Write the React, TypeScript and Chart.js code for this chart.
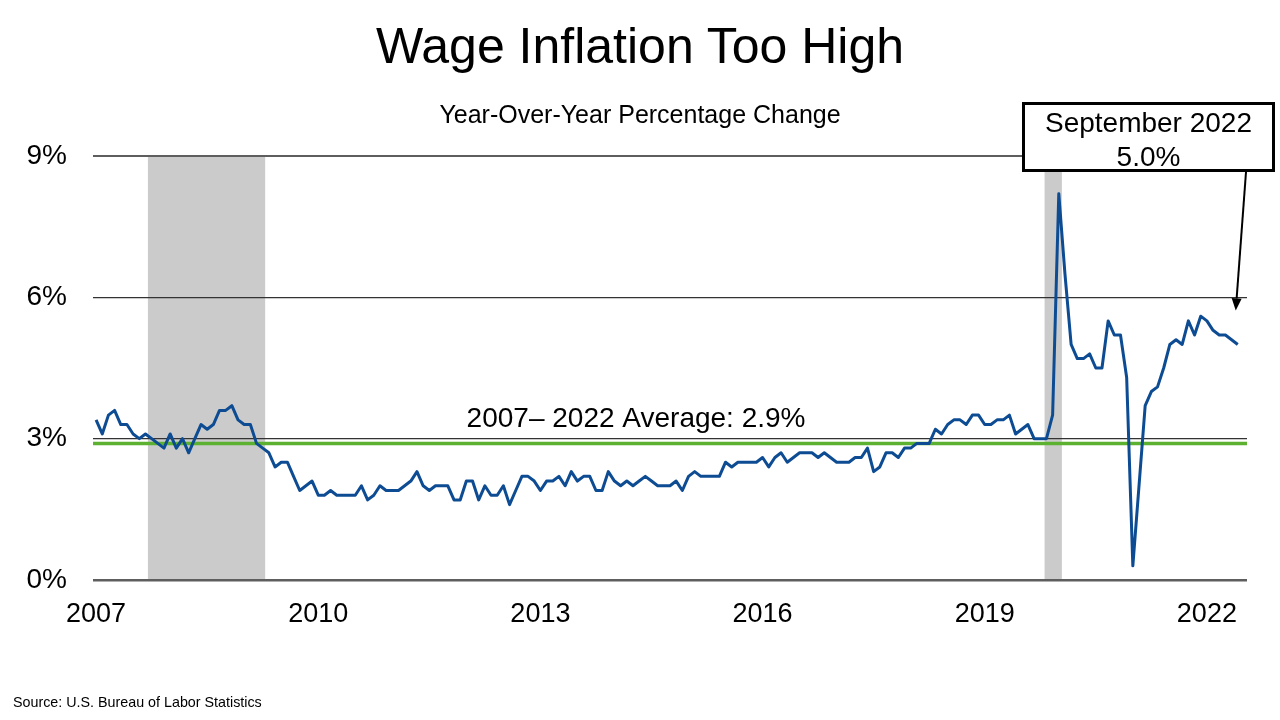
import { useEffect, useRef } from "react";
import { Chart, registerables } from "chart.js";

Chart.register(...registerables);

const FONT = '"Liberation Sans", Arial, Helvetica, sans-serif';

const titleText = "Wage Inflation Too High";
const subtitleText = "Year-Over-Year Percentage Change";
const sourceText = "Source: U.S. Bureau of Labor Statistics";
const calloutLines = ["September 2022", "5.0%"];
const averageLabel = "2007\u2013 2022 Average: 2.9%";

// Monthly year-over-year change (%), April 2007 – September 2022
const wageGrowth = [
  3.4, 3.1, 3.5, 3.6, 3.3, 3.3, 3.1, 3.0, 3.1, 3.0, 2.9, 2.8,
  3.1, 2.8, 3.0, 2.7, 3.0, 3.3, 3.2, 3.3, 3.6, 3.6, 3.7, 3.4,
  3.3, 3.3, 2.9, 2.8, 2.7, 2.4, 2.5, 2.5, 2.2, 1.9, 2.0, 2.1,
  1.8, 1.8, 1.9, 1.8, 1.8, 1.8, 1.8, 2.0, 1.7, 1.8, 2.0, 1.9,
  1.9, 1.9, 2.0, 2.1, 2.3, 2.0, 1.9, 2.0, 2.0, 2.0, 1.7, 1.7,
  2.1, 2.1, 1.7, 2.0, 1.8, 1.8, 2.0, 1.6, 1.9, 2.2, 2.2, 2.1,
  1.9, 2.1, 2.1, 2.2, 2.0, 2.3, 2.1, 2.2, 2.2, 1.9, 1.9, 2.3,
  2.1, 2.0, 2.1, 2.0, 2.1, 2.2, 2.1, 2.0, 2.0, 2.0, 2.1, 1.9,
  2.2, 2.3, 2.2, 2.2, 2.2, 2.2, 2.5, 2.4, 2.5, 2.5, 2.5, 2.5,
  2.6, 2.4, 2.6, 2.7, 2.5, 2.6, 2.7, 2.7, 2.7, 2.6, 2.7, 2.6,
  2.5, 2.5, 2.5, 2.6, 2.6, 2.8, 2.3, 2.4, 2.7, 2.7, 2.6, 2.8,
  2.8, 2.9, 2.9, 2.9, 3.2, 3.1, 3.3, 3.4, 3.4, 3.3, 3.5, 3.5,
  3.3, 3.3, 3.4, 3.4, 3.5, 3.1, 3.2, 3.3, 3.0, 3.0, 3.0, 3.5,
  8.2, 6.5, 5.0, 4.7, 4.7, 4.8, 4.5, 4.5, 5.5, 5.2, 5.2, 4.3,
  0.3, 2.0, 3.7, 4.0, 4.1, 4.5, 5.0, 5.1, 5.0, 5.5, 5.2, 5.6,
  5.5, 5.3, 5.2, 5.2, 5.1, 5.0,
];

const averageValue = 2.9;
const averageLabelAt = 87.5; // month index where the average label is centred

const yearTickIndex = [0, 36, 72, 108, 144, 180];
const yearTickLabels = ["2007", "2010", "2013", "2016", "2019", "2022"];
const yTickValues = [0, 3, 6, 9];

// Recession bands in month-index units
const recessionStart = [8.4, 153.7];
const recessionEnd = [27.4, 156.5];

const xMin = -0.5;
const xMax = 186.5;
const yMin = 0;
const yMax = 9;

// callout box geometry (page pixels)
const BOX = { left: 1022, top: 102, width: 253, height: 70 };

const recessionPlugin = {
  id: "recessionBands",
  beforeDraw(chart: any) {
    const { ctx, scales } = chart;
    const x = scales.x;
    const y = scales.y;
    ctx.save();
    ctx.fillStyle = "#cbcbcb";
    const yTop = y.getPixelForValue(yMax);
    const yBot = y.getPixelForValue(yMin);
    recessionStart.forEach((s, i) => {
      const x0 = x.getPixelForValue(s);
      const x1 = x.getPixelForValue(recessionEnd[i]);
      ctx.fillRect(x0, yTop, x1 - x0, yBot - yTop);
    });
    ctx.restore();
  },
};

const annotationPlugin = {
  id: "annotations",
  afterDraw(chart: any) {
    const { ctx, scales } = chart;
    const x = scales.x;
    const y = scales.y;
    ctx.save();
    // average label
    ctx.font = `28px ${FONT}`;
    ctx.fillStyle = "#000";
    ctx.textAlign = "center";
    ctx.textBaseline = "alphabetic";
    ctx.fillText(averageLabel, x.getPixelForValue(averageLabelAt), y.getPixelForValue(averageValue) - 16);

    // arrow from callout box to the last point
    const last = wageGrowth.length - 1;
    const tipX = x.getPixelForValue(last) - 2;
    const tipY = y.getPixelForValue(wageGrowth[last]) - 34;
    const startX = BOX.left + 224;
    const startY = BOX.top + BOX.height;
    const ang = Math.atan2(tipY - startY, tipX - startX);
    const headLen = 12;
    const headW = 5;
    const baseX = tipX - headLen * Math.cos(ang);
    const baseY = tipY - headLen * Math.sin(ang);
    ctx.strokeStyle = "#000";
    ctx.lineWidth = 2;
    ctx.beginPath();
    ctx.moveTo(startX, startY);
    ctx.lineTo(baseX, baseY);
    ctx.stroke();
    ctx.beginPath();
    ctx.moveTo(tipX, tipY);
    ctx.lineTo(baseX + headW * Math.sin(ang), baseY - headW * Math.cos(ang));
    ctx.lineTo(baseX - headW * Math.sin(ang), baseY + headW * Math.cos(ang));
    ctx.closePath();
    ctx.fillStyle = "#000";
    ctx.fill();
    ctx.restore();
  },
};

export default function App() {
  const canvasRef = useRef<HTMLCanvasElement | null>(null);

  useEffect(() => {
    const canvas = canvasRef.current;
    if (!canvas) return;
    const chart = new Chart(canvas, {
      type: "line",
      data: {
        datasets: [
          {
            label: "Wage growth",
            data: wageGrowth.map((v, i) => ({ x: i, y: v })),
            borderColor: "#0d4c93",
            borderWidth: 3,
            pointRadius: 0,
            tension: 0,
            borderJoinStyle: "round",
          },
          {
            label: "Average",
            data: [
              { x: xMin, y: averageValue },
              { x: xMax, y: averageValue },
            ],
            borderColor: "#5cb130",
            borderWidth: 3.5,
            pointRadius: 0,
          },
        ],
      },
      options: {
        animation: false,
        responsive: false,
        layout: { padding: { top: 156, right: 33, left: 0, bottom: 0 } },
        plugins: {
          legend: { display: false },
          tooltip: { enabled: false },
          title: { display: false },
        },
        scales: {
          x: {
            type: "linear",
            min: xMin,
            max: xMax,
            grid: { display: false, drawTicks: false },
            border: { display: false },
            afterBuildTicks: (s: any) => {
              s.ticks = yearTickIndex.map((v) => ({ value: v }));
            },
            afterFit: (s: any) => {
              s.height = 140;
            },
            ticks: {
              autoSkip: false,
              maxRotation: 0,
              minRotation: 0,
              padding: 18,
              color: "#000",
              font: { family: FONT, size: 27 },
              callback: (v: any) => {
                const i = yearTickIndex.indexOf(Number(v));
                return i >= 0 ? yearTickLabels[i] : "";
              },
            },
          },
          y: {
            type: "linear",
            min: yMin,
            max: yMax,
            border: { display: false },
            afterBuildTicks: (s: any) => {
              s.ticks = yTickValues.map((v) => ({ value: v }));
            },
            afterFit: (s: any) => {
              s.width = 93;
            },
            grid: {
              drawTicks: false,
              color: (c: any) => (c.tick && (c.tick.value === 0 || c.tick.value === 9) ? "#5e5e5e" : "#333333"),
              lineWidth: (c: any) => (c.tick && c.tick.value === 0 ? 2.5 : c.tick && c.tick.value === 9 ? 2 : 1.3),
            },
            ticks: {
              padding: 26,
              color: "#000",
              font: { family: FONT, size: 28 },
              callback: (v: any) => `${v}%`,
            },
          },
        },
      },
      plugins: [recessionPlugin, annotationPlugin],
    });
    return () => chart.destroy();
  }, []);

  return (
    <div
      style={{
        position: "absolute",
        left: 0,
        top: 0,
        width: 1280,
        height: 720,
        background: "#fff",
        overflow: "hidden",
        fontFamily: FONT,
        color: "#000",
      }}
    >
      <canvas ref={canvasRef} width={1280} height={720} style={{ position: "absolute", left: 0, top: 0, width: 1280, height: 720 }} />
      <div
        style={{
          position: "absolute",
          left: 0,
          top: 21,
          width: 1280,
          textAlign: "center",
          fontSize: 50,
          lineHeight: "50px",
          whiteSpace: "nowrap",
        }}
      >
        {titleText}
      </div>
      <div
        style={{
          position: "absolute",
          left: 0,
          top: 102,
          width: 1280,
          textAlign: "center",
          fontSize: 25,
          lineHeight: "25px",
          whiteSpace: "nowrap",
        }}
      >
        {subtitleText}
      </div>
      <div
        style={{
          position: "absolute",
          left: BOX.left,
          top: BOX.top,
          width: BOX.width,
          height: BOX.height,
          boxSizing: "border-box",
          border: "3px solid #000",
          background: "#fff",
          textAlign: "center",
          fontSize: 28,
          lineHeight: "34px",
        }}
      >
        <div style={{ position: "relative", top: 1 }}>
          {calloutLines.map((l) => (
            <div key={l}>{l}</div>
          ))}
        </div>
      </div>
      <div
        style={{
          position: "absolute",
          left: 13,
          top: 695,
          fontSize: 14.3,
          lineHeight: "14px",
          whiteSpace: "nowrap",
        }}
      >
        {sourceText}
      </div>
    </div>
  );
}
